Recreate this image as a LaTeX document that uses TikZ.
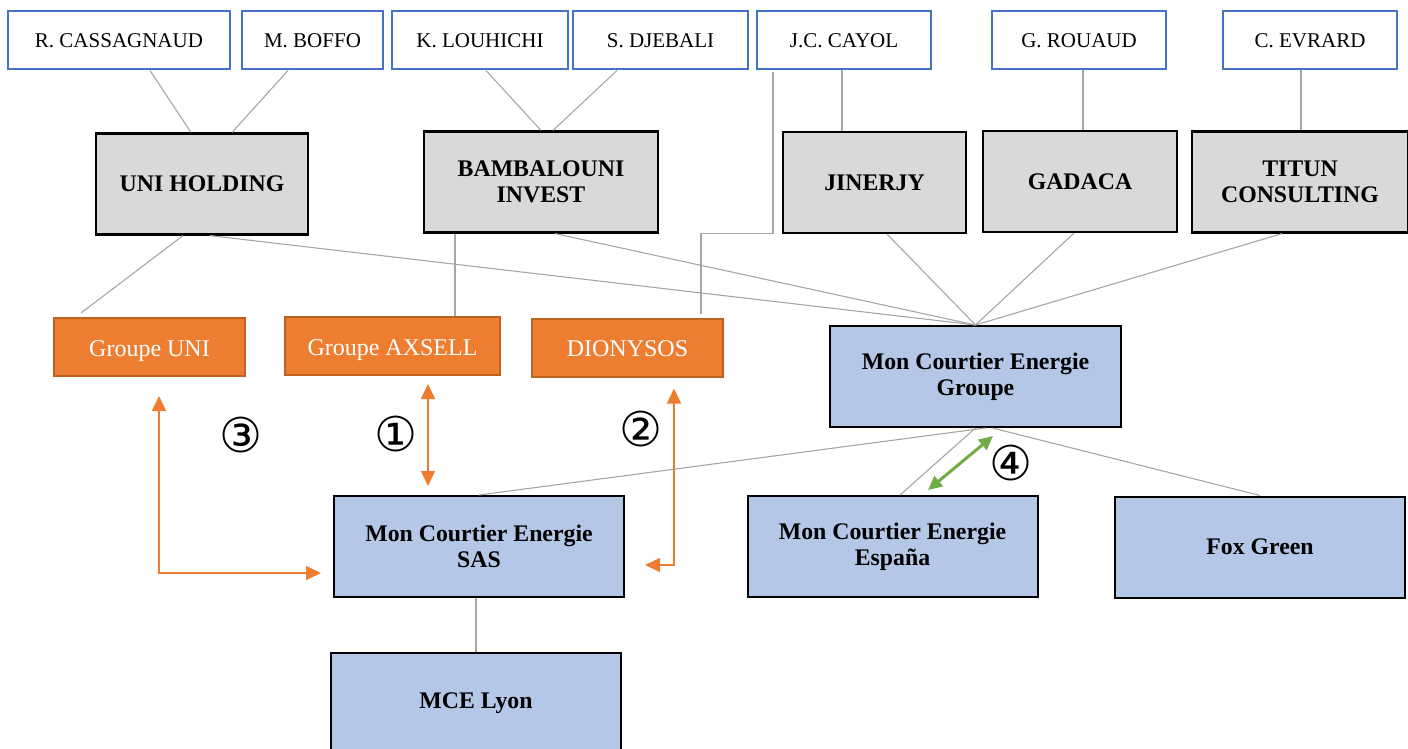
\documentclass[tikz,border=0pt]{standalone}
\usepackage{fontspec}
\setmainfont{Liberation Serif}
\newfontfamily\circfont{DejaVu Sans}
\usetikzlibrary{arrows.meta}
\definecolor{persblue}{HTML}{4472C4}
\definecolor{holdgray}{HTML}{D9D9D9}
\definecolor{grporange}{HTML}{ED7D31}
\definecolor{grpborder}{HTML}{C0621F}
\definecolor{mceblue}{HTML}{B4C7E7}
\definecolor{linkgray}{HTML}{A6A6A6}
\definecolor{linkgreen}{HTML}{70AD47}

\begin{document}
\begin{tikzpicture}[x=1pt,y=-1pt,
  person/.style={draw=persblue, line width=2pt, fill=white, rectangle, minimum height=58pt, font=\fontsize{21}{23}\selectfont},
  holding/.style={draw, line width=2.2pt, fill=holdgray, rectangle, minimum height=101pt, align=center, font=\bfseries\fontsize{23.8}{26}\selectfont},
  groupe/.style={draw=grpborder, line width=2pt, fill=grporange, text=white, rectangle, minimum height=58pt, minimum width=191pt, text height=18pt, text depth=0pt, font=\fontsize{24}{26}\selectfont},
  mce/.style={draw, line width=2pt, fill=mceblue, rectangle, minimum height=101pt, minimum width=290pt, align=center, font=\bfseries\fontsize{23.8}{26}\selectfont},
  link/.style={draw=linkgray, line width=1.1pt},
  orarrow/.style={draw=grporange, line width=1.5pt, {Triangle[length=15pt,width=14pt]}-{Triangle[length=15pt,width=14pt]}},
  grarrow/.style={draw=linkgreen, line width=3pt, {Triangle[length=14pt,width=13pt]}-{Triangle[length=14pt,width=13pt]}},
  num/.style={font=\circfont\fontsize{48}{48}\selectfont}]
\useasboundingbox (0,0) rectangle (1408,749);

% actionnaires
\node[person, minimum width=222pt] (cass) at (119,40.5){R. CASSAGNAUD};
\node[person, minimum width=141pt] (boffo) at (312.5,40.5){M. BOFFO};
\node[person, minimum width=176pt] (louh) at (480,40.5){K. LOUHICHI};
\node[person, minimum width=175pt] (djeb) at (660.5,40.5){S. DJEBALI};
\node[person, minimum width=174pt] (cayol) at (844,40.5){J.C. CAYOL};
\node[person, minimum width=174pt] (rouaud) at (1079,40.5){G. ROUAUD};
\node[person, minimum width=174pt] (evrard) at (1310,40.5){C. EVRARD};

% holdings
\node[holding, minimum width=212pt] (uni) at (202,184){UNI HOLDING};
\node[holding, minimum width=234pt] (bamb) at (541,182){BAMBALOUNI\\INVEST};
\node[holding, minimum width=183pt] (jin) at (874.5,182.5){JINERJY};
\node[holding, minimum width=194pt] (gad) at (1080,181.5){GADACA};
\node[holding, minimum width=216pt] (titun) at (1300,182){TITUN\\CONSULTING};

% groupes
\node[groupe] (guni) at (149.5,347){Groupe UNI};
\node[groupe, minimum width=215pt] (gax) at (392.5,346){Groupe AXSELL};
\node[groupe] (dion) at (627.5,347.5){DIONYSOS};

% societes MCE
\node[mce, minimum width=291pt] (mceg) at (975.5,376.5){Mon Courtier Energie\\Groupe};
\node[mce] (mcesas) at (479,546.5){Mon Courtier Energie\\SAS};
\node[mce] (mcees) at (892.5,546.5){Mon Courtier Energie\\España};
\node[mce] (fox) at (1260,547){Fox Green};
\node[mce] (lyon) at (476,703){MCE Lyon};

% liens
\draw[link] ([xshift=31pt]cass.south) -- ([xshift=-11pt]uni.north);
\draw[link] ([xshift=-24.5pt]boffo.south) -- ([xshift=30pt]uni.north);
\draw[link] ([xshift=6pt]louh.south) -- (bamb.north);
\draw[link] ([xshift=-43.5pt]djeb.south) -- ([xshift=12pt]bamb.north);
\draw[link] ([xshift=-71pt,yshift=-2pt]cayol.south) -- ++(0,161) -| ([xshift=73.5pt,yshift=4pt]dion.north);
\draw[link] ([xshift=-2pt]cayol.south) -- ([xshift=-32.5pt]jin.north);
\draw[link] ([xshift=4pt]rouaud.south) -- ([xshift=3pt]gad.north);
\draw[link] ([xshift=-9pt]evrard.south) -- ([xshift=1pt]titun.north);
\draw[link] ([xshift=-19pt]uni.south) -- ([xshift=-68.5pt,yshift=4pt]guni.north);
\draw[link] ([xshift=8pt]uni.south) -- (mceg.north);
\draw[link] ([xshift=-86pt]bamb.south) -- ([xshift=62.5pt]gax.north);
\draw[link] ([xshift=14pt]bamb.south) -- (mceg.north);
\draw[link] ([xshift=12.5pt]jin.south) -- (mceg.north);
\draw[link] ([xshift=-6pt]gad.south) -- (mceg.north);
\draw[link] ([xshift=-18pt]titun.south) -- (mceg.north);
\draw[link] ([xshift=10pt]mceg.south) -- (mcesas.north);
\draw[link] (mceg.south) -- ([xshift=7.5pt]mcees.north);
\draw[link] ([xshift=17pt]mceg.south) -- (fox.north);
\draw[link] ([xshift=-3pt]mcesas.south) -- (lyon.north);

% fleches
\draw[orarrow] ([xshift=35.5pt,yshift=-8pt]gax.south) -- ([xshift=-51pt,yshift=9pt]mcesas.north);
\draw[orarrow] ([xshift=20pt,yshift=-18.5pt]mcesas.east) -| ([xshift=46.5pt,yshift=-11pt]dion.south);
\draw[orarrow] ([xshift=9.5pt,yshift=-19pt]guni.south) |- ([xshift=-12pt,yshift=-26.5pt]mcesas.west);
\draw[grarrow] ([xshift=35.5pt,yshift=5pt]mcees.north) -- ([xshift=17.5pt,yshift=-8pt]mceg.south);

% numeros
\node[num] (n3) at (241,435){③};
\node[num] (n1) at (396,434){①};
\node[num] (n2) at (641,429){②};
\node[num] (n4) at (1011,463){④};
\end{tikzpicture}
\end{document}
